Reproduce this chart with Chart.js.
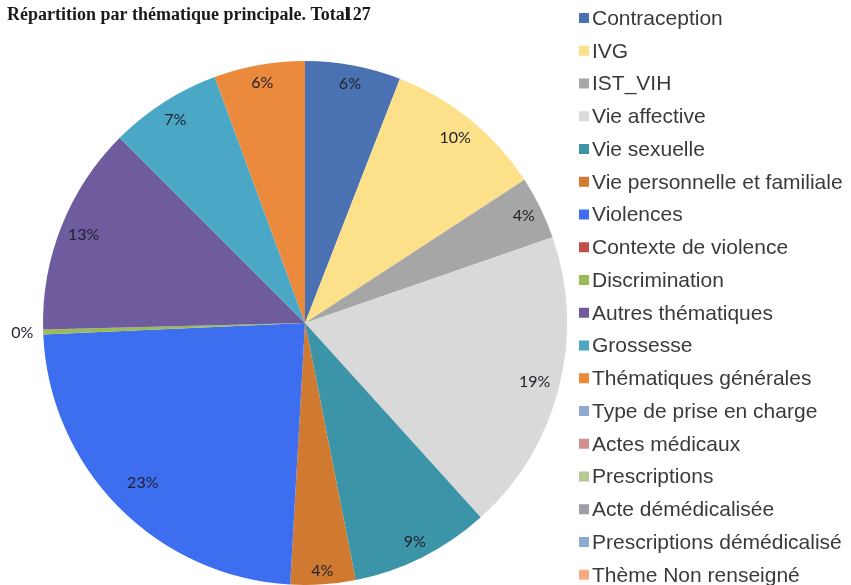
<!DOCTYPE html>
<html><head><meta charset="utf-8">
<script src="https://cdn.jsdelivr.net/npm/chart.js@4/dist/chart.umd.min.js"></script>
<style>html,body{margin:0;padding:0;background:#fff}#wrap{width:851px;height:585px;position:relative}</style>
</head><body><div id="wrap"><canvas id="c"></canvas></div>
<script>
const categories = ['Contraception','IVG','IST_VIH','Vie affective','Vie sexuelle','Vie personnelle et familiale','Violences','Contexte de violence','Discrimination','Autres thématiques','Grossesse','Thématiques générales','Type de prise en charge','Actes médicaux','Prescriptions','Acte démédicalisée','Prescriptions démédicalisé','Thème Non renseigné'];
const shares = [5.9, 9.9, 3.9, 18.6, 8.6, 4.0, 23.4, 0, 0.3, 12.9, 6.9, 5.6, 0, 0, 0, 0, 0, 0];
const titleText = 'Répartition par thématique principale. Total';
const totalText = '127';

const sliceColors = ['#4a72b2','#fde08a','#a6a6a6','#d9d9d9','#3b94a7','#cf7a30','#3d6ef0','#c0504d','#9bbb59','#6e5c9e','#4aa8c6','#eb8a3c','#93a9cf','#d28f8f','#b5ca92','#a09fa8','#8aaad6','#f7ab82'];
const labelRadius = [0.93,0.91,0.93,0.905,0.935,0.95,0.87,1,1.08,0.91,0.92,0.93,1,1,1,1,1,1];

const overlay = {
  id: 'overlay',
  afterDraw(chart) {
    const ctx = chart.ctx;
    const meta = chart.getDatasetMeta(0);
    const total = shares.reduce((a, b) => a + b, 0);
    ctx.save();
    ctx.font = '16px Lato';
    ctx.fillStyle = '#22222c';
    ctx.textAlign = 'center';
    ctx.textBaseline = 'middle';
    meta.data.forEach((arc, i) => {
      const v = shares[i];
      if (!v) return;
      const p = arc.getProps(['x','y','startAngle','endAngle','outerRadius'], true);
      const mid = (p.startAngle + p.endAngle) / 2;
      const r = p.outerRadius * labelRadius[i];
      ctx.fillText(Math.round(v / total * 100) + '%', p.x + Math.cos(mid) * r, p.y + Math.sin(mid) * r);
    });
    // legend
    ctx.font = '21px "Liberation Sans"';
    ctx.textAlign = 'left';
    categories.forEach((name, i) => {
      const y = 18 + i * 32.75;
      ctx.fillStyle = sliceColors[i];
      ctx.fillRect(579, y - 5, 10, 10);
      ctx.fillStyle = '#3a3a3a';
      ctx.fillText(name, 592, y + 1);
    });
    // title
    ctx.font = 'bold 18px "Liberation Serif"';
    ctx.fillStyle = '#1a1a1a';
    ctx.textBaseline = 'alphabetic';
    ctx.fillText(titleText, 7, 20);
    const w = ctx.measureText(titleText).width;
    ctx.fillText(totalText, 7 + w - 6, 20);
    ctx.restore();
  }
};

new Chart(document.getElementById('c'), {
  type: 'pie',
  data: {
    labels: categories,
    datasets: [{ data: shares, backgroundColor: sliceColors, borderWidth: 0 }]
  },
  options: {
    responsive: true,
    maintainAspectRatio: false,
    animation: false,
    layout: { padding: { left: 43, top: 61, right: 284, bottom: 0 } },
    plugins: { legend: { display: false }, title: { display: false }, tooltip: { enabled: false } }
  },
  plugins: [overlay]
});
</script>
</body></html>
